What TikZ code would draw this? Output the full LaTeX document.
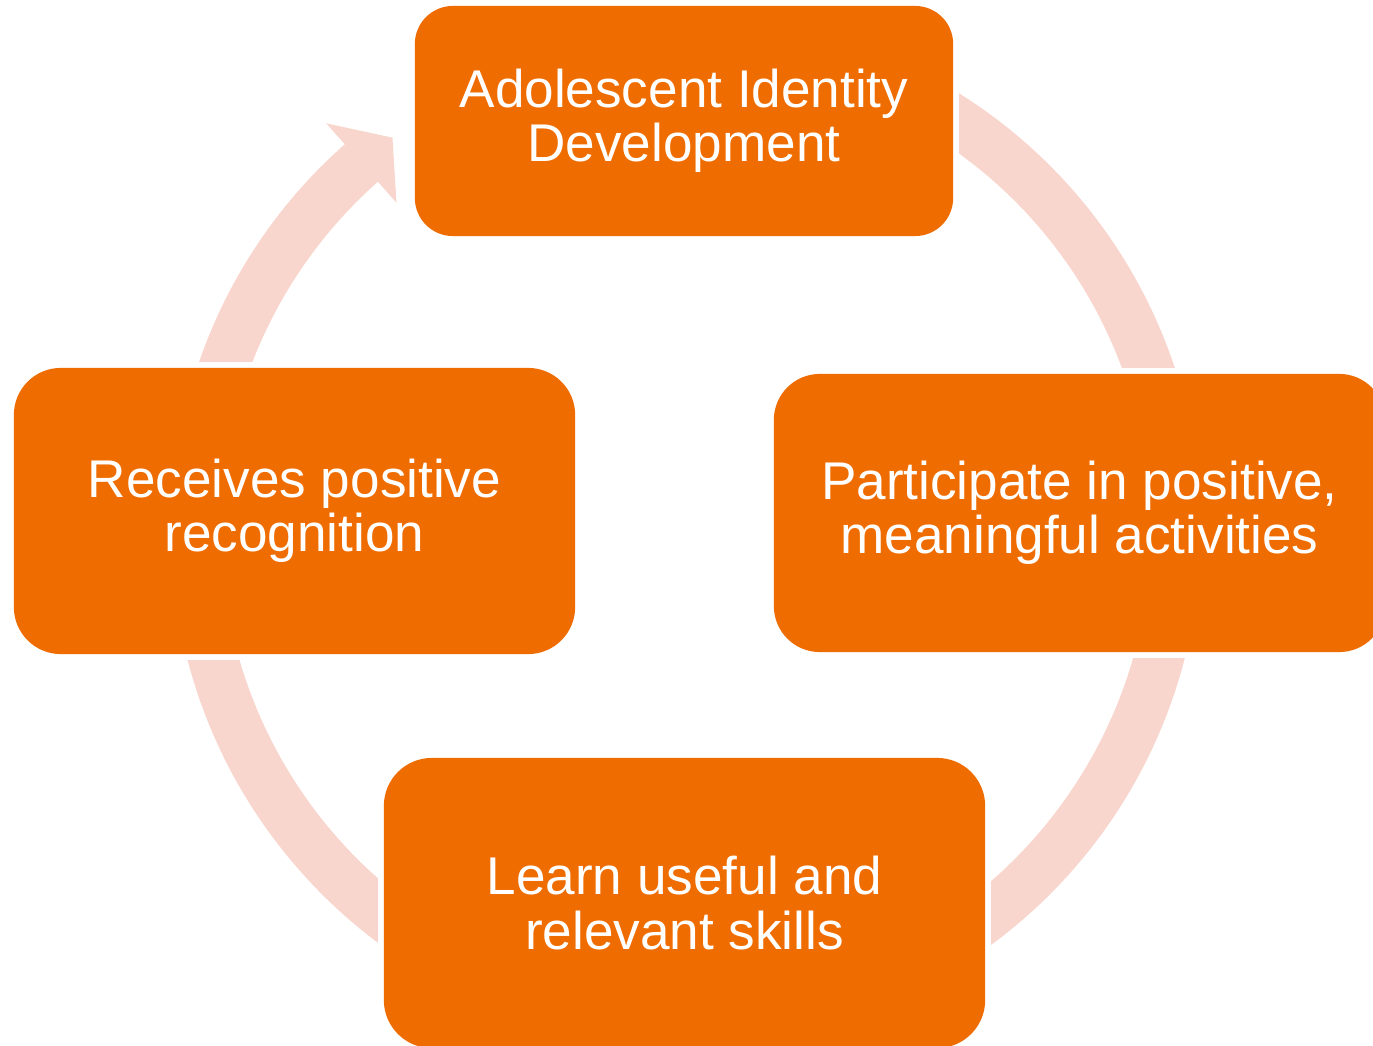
\documentclass[tikz,border=0pt]{standalone}
\usepackage{fontspec}
\setmainfont{Liberation Sans}
\usetikzlibrary{backgrounds}
\definecolor{boxorange}{RGB}{239,108,0}
\definecolor{ringpink}{RGB}{248,214,205}
\begin{document}
\begin{tikzpicture}[x=0.01cm,y=0.01cm,
  stage/.style={fill=boxorange, draw=none, text=white, align=center,
    inner sep=0pt, outer sep=0pt, font=\fontsize{15.1pt}{15.45pt}\selectfont,
    execute at begin node={\vspace*{0.07cm}}},
  gap/.style={fill=white},
  ring/.style={fill=ringpink}]
\useasboundingbox (0,0) rectangle (1373,1045);
\clip (0,0) rectangle (1373,1045);

% the four stages of the cycle
\node[stage, minimum width=5.38cm, minimum height=2.30cm, rounded corners=0.38cm]
  (identity) at (684,924) {Adolescent Identity\\Development};
\node[stage, minimum width=6.11cm, minimum height=2.78cm, rounded corners=0.46cm]
  (participate) at (1079.5,532) {Participate in positive,\\meaningful activities};
\node[stage, minimum width=6.01cm, minimum height=2.90cm, rounded corners=0.48cm]
  (skills) at (684.5,142) {Learn useful and\\relevant skills};
\node[stage, minimum width=5.61cm, minimum height=2.86cm, rounded corners=0.47cm]
  (recognition) at (294.5,534) {Receives positive\\recognition};

% circular arrow behind the stages
\begin{scope}[on background layer]
  \begin{scope}[shift={(686,515)}]
    \fill[ring] (131.2:515) arc[start angle=131.2, end angle=420, radius=515]
      -- (420:465) arc[start angle=420, end angle=131.2, radius=465] -- cycle;
    \fill[ring] (131.5:543) -- (126.8:490) -- (131.5:437) -- cycle;
  \end{scope}
  \foreach \n in {identity,participate,skills,recognition}
    \fill[gap] ([shift={(-6,-6)}]\n.south west) rectangle ([shift={(6,6)}]\n.north east);
\end{scope}
\end{tikzpicture}
\end{document}
